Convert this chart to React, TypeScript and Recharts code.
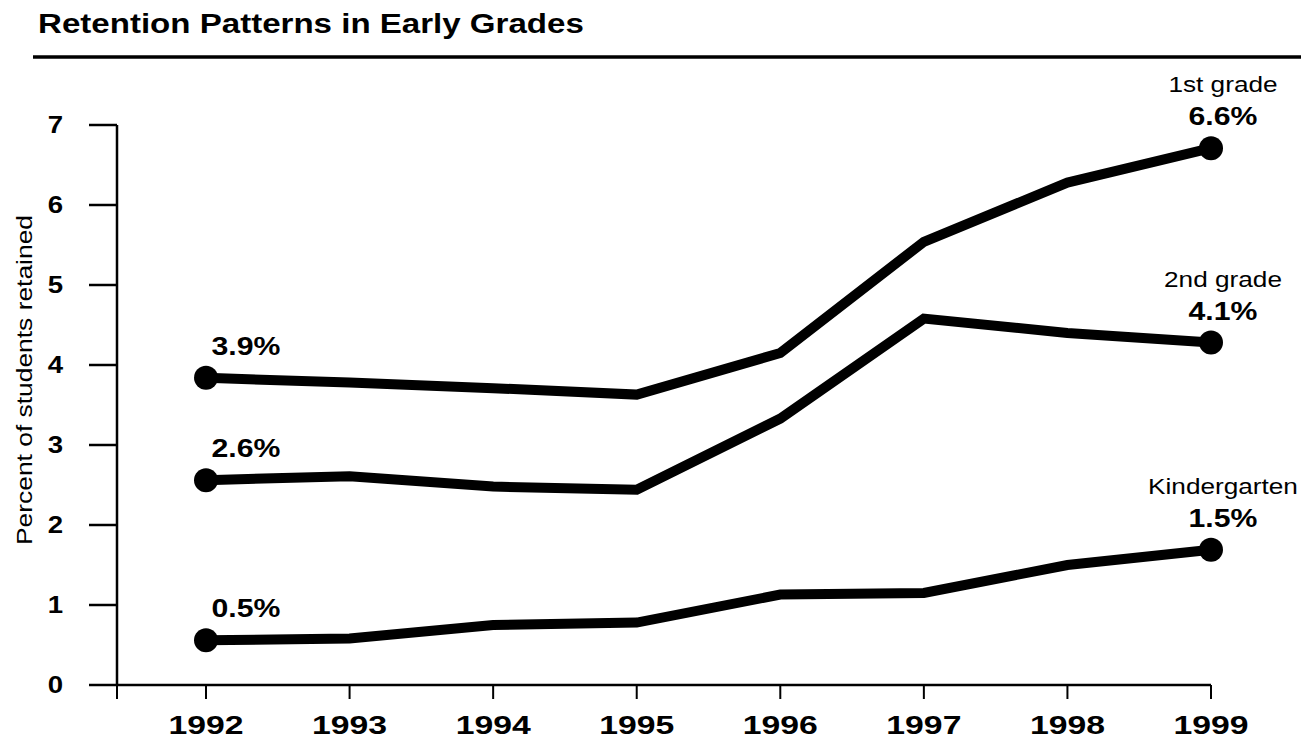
import { LineChart, Line, XAxis, YAxis } from 'recharts';

const years = [1992, 1993, 1994, 1995, 1996, 1997, 1998, 1999];
const firstGrade = [3.84, 3.78, 3.71, 3.63, 4.15, 5.54, 6.28, 6.71];
const secondGrade = [2.56, 2.61, 2.48, 2.44, 3.33, 4.58, 4.4, 4.28];
const kindergarten = [0.56, 0.58, 0.75, 0.78, 1.13, 1.15, 1.5, 1.69];

const seriesKeys = ['first', 'second', 'kinder'];
const seriesNames = ['1st grade', '2nd grade', 'Kindergarten'];
const startLabels = ['3.9%', '2.6%', '0.5%'];
const endLabels = ['6.6%', '4.1%', '1.5%'];

const yTicks = [0, 1, 2, 3, 4, 5, 6, 7];
const xStart = 1991.38;
const xTicks = [xStart, ...years];

const data = years.map((year, i) => ({
  year,
  first: firstGrade[i],
  second: secondGrade[i],
  kinder: kindergarten[i],
}));

const FONT = '"Liberation Sans", Arial, sans-serif';

const WideText = ({ x, y, size, weight = 400, anchor = 'middle', stretch = 1.2, children }: any) => (
  <text
    transform={`translate(${x},${y}) scale(${stretch},1)`}
    textAnchor={anchor}
    fontFamily={FONT}
    fontSize={size}
    fontWeight={weight}
    fill="#000"
  >
    {children}
  </text>
);

const XTick = ({ x, y, payload }: any) => {
  if (payload.value === xStart) return <g />;
  return (
    <WideText x={x} y={y + 33} size={25} weight={700} stretch={1.35}>
      {payload.value}
    </WideText>
  );
};

const YTick = ({ x, y, payload }: any) => (
  <WideText x={x - 24} y={y + 8} size={23} weight={700} anchor="end" stretch={1.2}>
    {payload.value}
  </WideText>
);

const makeDot = (key: string) => (props: any) => {
  const { cx, cy, index } = props;
  if (index === 0 || index === years.length - 1) {
    return <circle key={`${key}-dot-${index}`} cx={cx} cy={cy} r={12} fill="#000" />;
  }
  return <g key={`${key}-dot-${index}`} />;
};

const makeLabel = (s: number) => (props: any) => {
  const { x, y, index } = props;
  if (index === 0) {
    return (
      <WideText key={`l-${s}-${index}`} x={x + 40} y={y - 23} size={25} weight={700} stretch={1.21}>
        {startLabels[s]}
      </WideText>
    );
  }
  if (index === years.length - 1) {
    return (
      <g key={`l-${s}-${index}`}>
        <WideText x={x + 12} y={y - 56} size={22} stretch={1.19}>
          {seriesNames[s]}
        </WideText>
        <WideText x={x + 12} y={y - 23} size={25} weight={700} stretch={1.21}>
          {endLabels[s]}
        </WideText>
      </g>
    );
  }
  return <g key={`l-${s}-${index}`} />;
};

export default function App() {
  return (
    <div style={{ position: 'absolute', left: 0, top: 0, width: 1301, height: 741, background: '#fff' }}>
      <svg width={1301} height={70} style={{ position: 'absolute', left: 0, top: 0 }}>
        <WideText x={38} y={33} size={27} weight={700} anchor="start" stretch={1.225}>
          Retention Patterns in Early Grades
        </WideText>
        <line x1={33} y1={57} x2={1301} y2={57} stroke="#000" strokeWidth={3.5} />
      </svg>
      <svg width={45} height={741} style={{ position: 'absolute', left: 0, top: 0 }}>
        <text
          transform="translate(32,380) rotate(-90) scale(1.2,1)"
          textAnchor="middle"
          fontFamily={FONT}
          fontSize={22}
          fill="#000"
        >
          Percent of students retained
        </text>
      </svg>
      <div style={{ position: 'absolute', left: 0, top: 0 }}>
        <LineChart
          width={1301}
          height={741}
          data={data}
          margin={{ top: 125, right: 90, bottom: 0, left: 57 }}
        >
          <XAxis
            dataKey="year"
            type="number"
            domain={[xStart, 1999]}
            ticks={xTicks}
            interval={0}
            height={56}
            tickSize={14}
            axisLine={{ stroke: '#000', strokeWidth: 2.5 }}
            tickLine={{ stroke: '#000', strokeWidth: 2 }}
            tick={<XTick />}
          />
          <YAxis
            type="number"
            domain={[0, 7]}
            ticks={yTicks}
            interval={0}
            width={60}
            tickSize={28}
            axisLine={{ stroke: '#000', strokeWidth: 2.5 }}
            tickLine={{ stroke: '#000', strokeWidth: 2.5 }}
            tick={<YTick />}
          />
          {seriesKeys.map((key, s) => (
            <Line
              key={key}
              dataKey={key}
              type="linear"
              stroke="#000"
              strokeWidth={10}
              dot={makeDot(key)}
              activeDot={false}
              label={makeLabel(s)}
              isAnimationActive={false}
            />
          ))}
        </LineChart>
      </div>
    </div>
  );
}
